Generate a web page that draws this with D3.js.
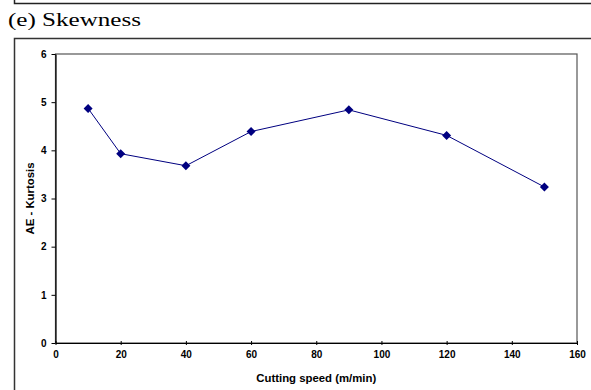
<!DOCTYPE html>
<html>
<head>
<meta charset="utf-8">
<script src="https://cdn.jsdelivr.net/npm/d3@7"></script>
<style>
  body { margin: 0; background: #fff; }
  svg { display: block; }
  .tick text { font-family: "Liberation Sans", Arial, sans-serif; font-weight: bold; font-size: 10px; fill: #000; }
</style>
</head>
<body>
<div id="chart"></div>
<script>
// chart values
const speeds = [10, 20, 40, 60, 90, 120, 150];
const kurtosis = [4.87, 3.93, 3.68, 4.39, 4.84, 4.31, 3.24];
const xTicks = [0, 20, 40, 60, 80, 100, 120, 140, 160];
const yTicks = [0, 1, 2, 3, 4, 5, 6];

const width = 591, height = 390;
const plot = { left: 55.5, right: 577, top: 54, bottom: 343 };

const svg = d3.select("#chart")
    .append("svg")
    .attr("width", width)
    .attr("height", height);

// frame of the panel above (only its bottom edge shows)
svg.append("path")
    .attr("d", `M14.5,0 V3.5 H${width + 5}`)
    .attr("fill", "none")
    .attr("stroke", "#222")
    .attr("stroke-width", 1.5);

// panel caption (the source is stretched sideways)
svg.append("text")
    .attr("x", 8)
    .attr("y", 26)
    .attr("font-family", "'Liberation Serif', 'Times New Roman', serif")
    .attr("font-size", "19.5px")
    .attr("textLength", 133)
    .attr("lengthAdjust", "spacingAndGlyphs")
    .text("(e) Skewness");

// outer frame of this panel
svg.append("path")
    .attr("d", `M14.5,${height + 5} V38.5 H${width + 5}`)
    .attr("fill", "none")
    .attr("stroke", "#333")
    .attr("stroke-width", 1.5);

const xScale = d3.scaleLinear().domain([0, 160]).range([plot.left, plot.right]);
const yScale = d3.scaleLinear().domain([0, 6]).range([plot.bottom, plot.top]);

// plot area border
svg.append("rect")
    .attr("x", plot.left)
    .attr("y", plot.top)
    .attr("width", plot.right - plot.left)
    .attr("height", plot.bottom - plot.top)
    .attr("fill", "none")
    .attr("stroke", "#555")
    .attr("stroke-width", 1.2);

// axes
const xAxis = svg.append("g")
    .attr("transform", `translate(0,${plot.bottom})`)
    .call(d3.axisBottom(xScale).tickValues(xTicks).tickFormat(d3.format("d")).tickSize(4).tickSizeOuter(0).tickPadding(4));
const yAxis = svg.append("g")
    .attr("transform", `translate(${plot.left},0)`)
    .call(d3.axisLeft(yScale).tickValues(yTicks).tickFormat(d3.format("d")).tickSize(4).tickSizeOuter(0).tickPadding(5));
[xAxis, yAxis].forEach(a => {
    a.select(".domain").attr("stroke", "#000").attr("stroke-width", 1.2);
    a.selectAll(".tick line").attr("stroke", "#000");
});
xAxis.selectAll(".tick line").attr("y1", -2).attr("y2", 2);
yAxis.selectAll(".tick line").attr("x1", -4).attr("x2", 0);

// axis titles
svg.append("text")
    .attr("x", (plot.left + plot.right) / 2)
    .attr("y", 382)
    .attr("text-anchor", "middle")
    .attr("font-family", "'Liberation Sans', Arial, sans-serif")
    .attr("font-weight", "bold")
    .attr("font-size", "10px")
    .attr("textLength", 120)
    .attr("lengthAdjust", "spacingAndGlyphs")
    .text("Cutting speed (m/min)");

svg.append("text")
    .attr("transform", `translate(34,${(plot.top + plot.bottom) / 2}) rotate(-90)`)
    .attr("text-anchor", "middle")
    .attr("font-family", "'Liberation Sans', Arial, sans-serif")
    .attr("font-weight", "bold")
    .attr("font-size", "10px")
    .attr("textLength", 72)
    .attr("lengthAdjust", "spacingAndGlyphs")
    .text("AE - Kurtosis");

// series line
const points = speeds.map((s, i) => ({ x: s, y: kurtosis[i] }));
const line = d3.line()
    .x(d => xScale(d.x))
    .y(d => yScale(d.y));

svg.append("path")
    .datum(points)
    .attr("fill", "none")
    .attr("stroke", "#000080")
    .attr("stroke-width", 1)
    .attr("d", line);

// diamond markers
svg.selectAll(".marker")
    .data(points)
    .enter()
    .append("path")
    .attr("class", "marker")
    .attr("d", "M0,-4.5 L4.5,0 L0,4.5 L-4.5,0 Z")
    .attr("transform", d => `translate(${xScale(d.x)},${yScale(d.y)})`)
    .attr("fill", "#000080");
</script>
</body>
</html>
